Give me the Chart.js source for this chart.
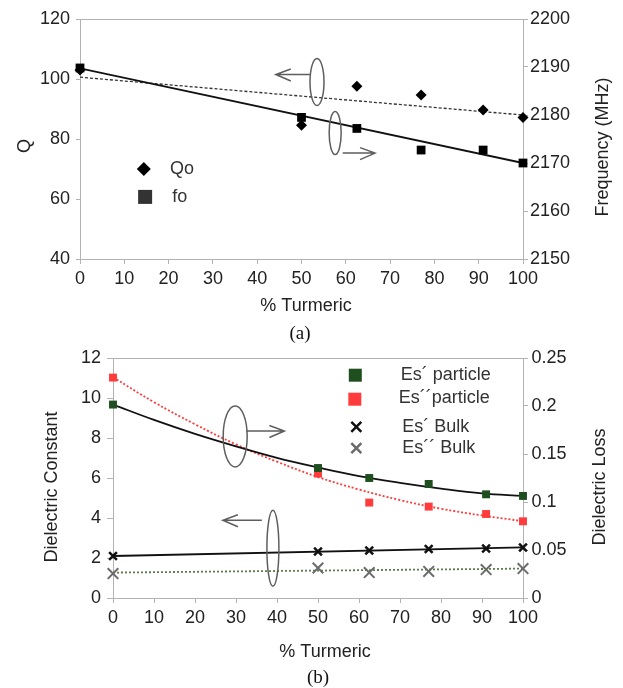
<!DOCTYPE html>
<html>
<head>
<meta charset="utf-8">
<script src="https://cdn.jsdelivr.net/npm/chart.js@4.4.1/dist/chart.umd.min.js"></script>
<style>
    html, body { margin: 0; padding: 0; background: #fff; }
    body { width: 623px; height: 688px; position: relative; overflow: hidden; }
    canvas { position: absolute; left: 0; }
    #chartA { top: 0; }
    #chartB { top: 330px; }
    .cap {
        position: absolute;
        font-family: "Liberation Serif", "Times New Roman", serif;
        font-size: 19px;
        color: #111;
        transform: translate(-50%, -50%);
    }
</style>
</head>
<body>
<canvas id="chartA" width="623" height="320"></canvas>
<canvas id="chartB" width="623" height="358"></canvas>
<div class="cap" style="left:300px;top:333px">(a)</div>
<div class="cap" style="left:318px;top:677px">(b)</div>

<script>
// データ
const turmeric = [0, 50, 62.5, 77, 91, 100];

// (a) Q と共振周波数
const qoValues = [103, 84.6, 97.6, 94.7, 89.7, 87.2];
const foValues = [2189.8, 2179.5, 2177.2, 2172.7, 2172.7, 2170];
const trendX = [0, 100];
const qoTrend = [100.6, 88.0];
const foTrend = [2189.7, 2170.0];

// (b) 誘電率・誘電損失
const esPartReal = [0.2015, 0.1354, 0.125, 0.1188, 0.108, 0.1063];
const esPartImag = [0.2296, 0.1296, 0.0994, 0.0952, 0.0875, 0.0799];
const esBulkReal = [2.1, 2.33, 2.38, 2.45, 2.47, 2.53];
const esBulkImag = [1.22, 1.5, 1.27, 1.33, 1.42, 1.47];
const fitX = [0, 10, 20, 30, 40, 50, 60, 70, 80, 90, 100];
const esPartRealFit = [0.2015, 0.1855, 0.171, 0.158, 0.146, 0.136, 0.127, 0.12, 0.114, 0.109, 0.1063];
const esPartImagFit = [0.230, 0.204, 0.181, 0.160, 0.142, 0.126, 0.113, 0.102, 0.093, 0.086, 0.080];
const esBulkRealFit = [2.1, 2.53];
const esBulkImagFit = [1.27, 1.47];

const FONT = '"Liberation Sans", Arial, sans-serif';
const TEXT = '#222';
const AXIS = '#b3b3b3';
const ANNOT = '#5e5e5e';

Chart.defaults.font.family = FONT;
Chart.defaults.font.size = 18;
Chart.defaults.color = TEXT;
Chart.defaults.animation = false;

const pts = (xs, ys) => xs.map((x, i) => ({ x: x, y: ys[i] }));

// 軸の共通設定
const makeAxis = (opts) => ({
    type: 'linear',
    position: opts.position,
    min: opts.min,
    max: opts.max,
    ticks: {
        stepSize: opts.step,
        padding: opts.padding,
        color: TEXT,
        font: { size: 18 },
        callback: opts.format || ((v) => String(v))
    },
    grid: {
        display: true,
        drawOnChartArea: false,
        drawTicks: true,
        tickLength: opts.tick,
        color: AXIS
    },
    border: { display: true, color: AXIS },
    title: { display: false },
    afterFit: (scale) => {
        if (opts.width) scale.width = opts.width;
        if (opts.height) scale.height = opts.height;
    }
});

// 楕円と矢印
const drawEllipse = (ctx, cx, cy, rx, ry) => {
    ctx.beginPath();
    ctx.ellipse(cx, cy, rx, ry, 0, 0, Math.PI * 2);
    ctx.stroke();
};
const drawArrow = (ctx, x1, x2, y) => {
    const dir = x2 > x1 ? 1 : -1;
    ctx.beginPath();
    ctx.moveTo(x1, y);
    ctx.lineTo(x2, y);
    ctx.moveTo(x2 - dir * 15, y - 5.5);
    ctx.lineTo(x2, y);
    ctx.lineTo(x2 - dir * 15, y + 6.5);
    ctx.stroke();
};
const drawTitle = (ctx, text, x, y, rotate) => {
    ctx.save();
    ctx.translate(x, y);
    if (rotate) ctx.rotate(-Math.PI / 2);
    ctx.font = '18px ' + FONT;
    ctx.fillStyle = TEXT;
    ctx.textAlign = 'center';
    ctx.textBaseline = 'middle';
    ctx.fillText(text, 0, 0);
    ctx.restore();
};
const drawLabel = (ctx, text, x, y) => {
    ctx.font = '18px ' + FONT;
    ctx.fillStyle = '#333';
    ctx.textAlign = 'left';
    ctx.textBaseline = 'middle';
    ctx.fillText(text, x, y);
};
const drawCross = (ctx, x, y, r, color, w) => {
    ctx.strokeStyle = color;
    ctx.lineWidth = w;
    ctx.beginPath();
    ctx.moveTo(x - r, y - r);
    ctx.lineTo(x + r, y + r);
    ctx.moveTo(x + r, y - r);
    ctx.lineTo(x - r, y + r);
    ctx.stroke();
};

// プロット枠（マーカーの下に描く）
const frame = {
    id: 'frame',
    beforeDatasetsDraw(chart) {
        const ctx = chart.ctx;
        const a = chart.chartArea;
        ctx.save();
        ctx.strokeStyle = AXIS;
        ctx.lineWidth = 1;
        ctx.strokeRect(a.left + 0.5, a.top + 0.5, a.right - a.left, a.bottom - a.top);
        ctx.restore();
    }
};

// (a) 用の装飾プラグイン
const decorA = {
    id: 'decorA',
    afterDraw(chart) {
        const ctx = chart.ctx;
        const x = chart.scales.x;
        const y = chart.scales.yQ;
        ctx.save();
        ctx.strokeStyle = ANNOT;
        ctx.lineWidth = 1.5;
        drawEllipse(ctx, x.getPixelForValue(53.5), y.getPixelForValue(99), 7, 23.5);
        drawArrow(ctx, x.getPixelForValue(51.9), x.getPixelForValue(44.2), y.getPixelForValue(101.5));
        drawEllipse(ctx, x.getPixelForValue(57.6), y.getPixelForValue(82), 6, 21.5);
        drawArrow(ctx, x.getPixelForValue(59.3), x.getPixelForValue(66.6), y.getPixelForValue(75.3));

        // 凡例
        const dx = x.getPixelForValue(14.4), dy = y.getPixelForValue(70);
        ctx.fillStyle = '#000';
        ctx.beginPath();
        ctx.moveTo(dx - 7, dy);
        ctx.lineTo(dx, dy - 7);
        ctx.lineTo(dx + 7, dy);
        ctx.lineTo(dx, dy + 7);
        ctx.closePath();
        ctx.fill();
        drawLabel(ctx, 'Qo', x.getPixelForValue(20.3), dy);
        const sx = x.getPixelForValue(14.7), sy = y.getPixelForValue(60.7);
        ctx.fillRect(sx - 7, sy - 7, 14, 14);
        drawLabel(ctx, 'fo', x.getPixelForValue(20.8), sy);

        drawTitle(ctx, 'Q', 25, 146, true);
        drawTitle(ctx, 'Frequency (MHz)', 603, 147, true);
        drawTitle(ctx, '% Turmeric', 306, 306, false);
        ctx.restore();
    }
};

// (b) 用の装飾プラグイン
const decorB = {
    id: 'decorB',
    afterDraw(chart) {
        const ctx = chart.ctx;
        const x = chart.scales.x;
        const y = chart.scales.yConst;
        ctx.save();
        ctx.strokeStyle = ANNOT;
        ctx.lineWidth = 1.5;
        drawEllipse(ctx, x.getPixelForValue(29.8), y.getPixelForValue(8.08), 12, 30.5);
        drawArrow(ctx, x.getPixelForValue(32.5), x.getPixelForValue(41.8), y.getPixelForValue(8.35));
        drawEllipse(ctx, x.getPixelForValue(39), y.getPixelForValue(2.49), 6, 38);
        drawArrow(ctx, x.getPixelForValue(36.3), x.getPixelForValue(26.8), y.getPixelForValue(3.89));

        // 凡例
        const lx = x.getPixelForValue(59.1);
        const tx = x.getPixelForValue(70.2);
        let py = y.getPixelForValue(11.14);
        ctx.fillStyle = '#1f4f1f';
        ctx.fillRect(lx - 6.5, py - 6.5, 13, 13);
        drawLabel(ctx, 'Es\u00b4 particle', tx, py);
        py = y.getPixelForValue(9.94);
        ctx.fillStyle = '#ff3b3b';
        ctx.fillRect(lx - 7, py - 6.5, 13, 13);
        drawLabel(ctx, 'Es\u00b4\u00b4particle', tx - 2, py - 1);
        py = y.getPixelForValue(8.56);
        drawCross(ctx, lx + 1, py, 5, '#111', 2.5);
        drawLabel(ctx, 'Es\u00b4 Bulk', tx + 1.5, py);
        py = y.getPixelForValue(7.49);
        drawCross(ctx, lx + 1, py, 5, '#6b6b6b', 2.5);
        drawLabel(ctx, 'Es\u00b4\u00b4 Bulk', tx + 1.5, py);

        drawTitle(ctx, 'Dielectric Constant', 52, 157, true);
        drawTitle(ctx, 'Dielectric Loss', 600, 157, true);
        drawTitle(ctx, '% Turmeric', 325, 322, false);
        ctx.restore();
    }
};

const baseOptions = (padTop) => ({
    responsive: false,
    animation: false,
    layout: { padding: { top: padTop, left: 0, right: 0, bottom: 0 } },
    plugins: { legend: { display: false }, tooltip: { enabled: false } },
    elements: { line: { fill: false } }
});

// (a) チャート
new Chart(document.getElementById('chartA').getContext('2d'), {
    type: 'scatter',
    data: {
        datasets: [
            {
                label: 'fo',
                data: pts(turmeric, foValues),
                yAxisID: 'yF',
                pointStyle: 'rect',
                pointRadius: 6.2,
                backgroundColor: '#000',
                borderColor: '#000',
                borderWidth: 0,
                clip: false,
                order: 0
            },
            {
                label: 'Qo',
                data: pts(turmeric, qoValues),
                yAxisID: 'yQ',
                pointStyle: 'rectRot',
                pointRadius: 5.5,
                backgroundColor: '#000',
                borderColor: '#000',
                borderWidth: 0,
                clip: false,
                order: 1
            },
            {
                label: 'fo trend',
                data: pts(trendX, foTrend),
                yAxisID: 'yF',
                showLine: true,
                pointRadius: 0,
                borderColor: '#111',
                borderWidth: 1.8,
                order: 3
            },
            {
                label: 'Qo trend',
                data: pts(trendX, qoTrend),
                yAxisID: 'yQ',
                showLine: true,
                pointRadius: 0,
                borderColor: '#333',
                borderWidth: 1.3,
                borderDash: [3, 2],
                order: 4
            }
        ]
    },
    options: Object.assign(baseOptions(19), {
        scales: {
            x: makeAxis({ position: 'bottom', min: 0, max: 100, step: 10, tick: 5, padding: 4, height: 61 }),
            yQ: makeAxis({ position: 'left', min: 40, max: 120, step: 20, tick: 4, padding: 6, width: 80 }),
            yF: makeAxis({ position: 'right', min: 2150, max: 2200, step: 10, tick: 5, padding: 2, width: 100 })
        }
    }),
    plugins: [frame, decorA]
});

// (b) チャート
new Chart(document.getElementById('chartB').getContext('2d'), {
    type: 'scatter',
    data: {
        datasets: [
            {
                label: 'Es´ particle',
                data: pts(turmeric, esPartReal),
                yAxisID: 'yLoss',
                pointStyle: 'rect',
                pointRadius: 5.6,
                backgroundColor: '#1f4f1f',
                borderColor: '#1f4f1f',
                borderWidth: 0,
                clip: false,
                order: 0
            },
            {
                label: 'Es´´particle',
                data: pts(turmeric, esPartImag),
                yAxisID: 'yLoss',
                pointStyle: 'rect',
                pointRadius: 5.6,
                backgroundColor: '#ff3b3b',
                borderColor: '#ff3b3b',
                borderWidth: 0,
                clip: false,
                order: 1
            },
            {
                label: 'Es´ Bulk',
                data: pts(turmeric, esBulkReal),
                yAxisID: 'yConst',
                pointStyle: 'crossRot',
                pointRadius: 5.5,
                borderColor: '#111',
                borderWidth: 2.5,
                clip: false,
                order: 2
            },
            {
                label: 'Es´´ Bulk',
                data: pts(turmeric, esBulkImag),
                yAxisID: 'yConst',
                pointStyle: 'crossRot',
                pointRadius: 7.5,
                borderColor: '#6b6b6b',
                borderWidth: 2,
                clip: false,
                order: 3
            },
            {
                label: 'Es´ particle fit',
                data: pts(fitX, esPartRealFit),
                yAxisID: 'yLoss',
                showLine: true,
                pointRadius: 0,
                tension: 0.4,
                borderColor: '#111',
                borderWidth: 1.8,
                order: 5
            },
            {
                label: 'Es´´ particle fit',
                data: pts(fitX, esPartImagFit),
                yAxisID: 'yLoss',
                showLine: true,
                pointRadius: 0,
                tension: 0.4,
                borderColor: '#ff3b3b',
                borderWidth: 1.8,
                borderDash: [2, 2],
                order: 6
            },
            {
                label: 'Es´ Bulk fit',
                data: pts(trendX, esBulkRealFit),
                yAxisID: 'yConst',
                showLine: true,
                pointRadius: 0,
                borderColor: '#111',
                borderWidth: 1.8,
                order: 7
            },
            {
                label: 'Es´´ Bulk fit',
                data: pts(trendX, esBulkImagFit),
                yAxisID: 'yConst',
                showLine: true,
                pointRadius: 0,
                borderColor: '#5b7d4b',
                borderWidth: 1.8,
                borderDash: [2, 2],
                order: 8
            }
        ]
    },
    options: Object.assign(baseOptions(28), {
        scales: {
            x: makeAxis({ position: 'bottom', min: 0, max: 100, step: 10, tick: 5, padding: 4, height: 90 }),
            yConst: makeAxis({ position: 'left', min: 0, max: 12, step: 2, tick: 6, padding: 6, width: 113 }),
            yLoss: makeAxis({
                position: 'right', min: 0, max: 0.25, step: 0.05, tick: 5, padding: 3.5, width: 100,
                format: (v) => String(+v.toFixed(2))
            })
        }
    }),
    plugins: [frame, decorB]
});
</script>
</body>
</html>
